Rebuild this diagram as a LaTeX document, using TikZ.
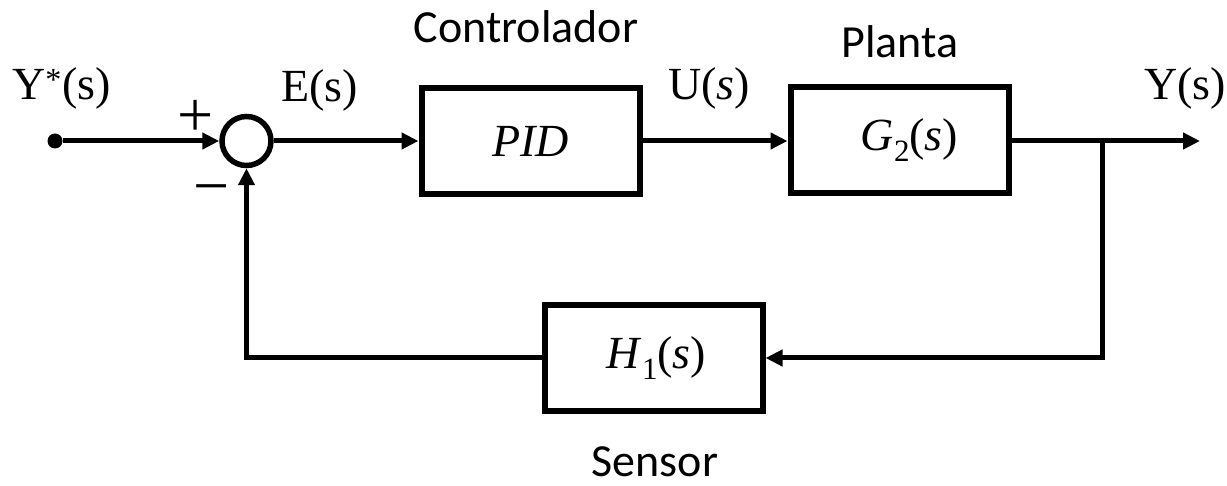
\documentclass[tikz,border=0pt]{standalone}
\usepackage{fontspec}
\usepackage{graphicx}
\setmainfont{Liberation Serif}
\newfontfamily\labelsans{Carlito}
\usetikzlibrary{arrows.meta}

% lowered index for transfer-function names
\newcommand\lowidx[1]{\raisebox{-0.22em}{\fontsize{31}{31}\selectfont #1}}

\tikzset{
  every node/.style={font=\fontsize{46}{54}\selectfont, inner sep=0pt},
  block/.style={draw, line width=6pt, minimum width=218pt, minimum height=106pt},
  sumjunction/.style={draw, circle, line width=5.5pt, minimum size=49pt},
  terminal/.style={circle, fill, minimum size=15pt},
  wire/.style={line width=5pt},
  flow/.style={wire, -{Triangle[length=17pt,width=16pt]}},
  caption/.style={font=\labelsans\fontsize{46}{54}\selectfont},
  sign/.style={font=\fontsize{64}{64}\selectfont}
}

\begin{document}
\begin{tikzpicture}[x=1pt, y=-1pt]
  \useasboundingbox (0,0) rectangle (1227,486);

  % blocks and summing junction
  \node[terminal] (in) at (55,141) {};
  \node[sumjunction] (sum) at (246.5,141) {};
  \node[block] (pid) at (530.5,141) {\textit{PID}};
  \node[block] (plant) at (899.5,140) {\hspace{20pt}\textit{G}\lowidx{2}(\textit{s})};
  \node[block] (sensor) at (653.5,358) {\hspace{6pt}\textit{H}\lowidx{1}(\textit{s})};

  \coordinate (branch) at (1102,141);
  \coordinate (out) at (1200,141);

  % forward path
  \draw[flow] (in) -- (sum.west);
  \draw[flow] (sum.east) -- (pid.west);
  \draw[flow] (pid.east) -- (pid.east -| plant.west);
  \draw[flow] (plant.east |- out) -- (out);

  % feedback path
  \draw[flow] (branch) |- (sensor.east);
  \draw[flow] (sensor.west) -| (sum.south);

  % signal labels
  \node[anchor=base west] (lref) at (12,100) {Y\textsuperscript{*}(s)};
  \node[anchor=base west] (lerr) at (281,102) {E(s)};
  \node[anchor=base west] (lu) at (668,100) {U(\textit{s})};
  \node[anchor=base east] (ly) at (1226,100) {Y(s)};
  \node[sign] (lplus) at (196,118) {+};
  \node[sign] (lminus) at (212,196) {\char"2212};

  % block captions
  \node[caption, anchor=base] (cctrl) at (526,43) {Controlador};
  \node[caption, anchor=base] (cplant) at (900,58) {Planta};
  \node[caption, anchor=base] (csens) at (655,476) {Sensor};
\end{tikzpicture}
\end{document}
